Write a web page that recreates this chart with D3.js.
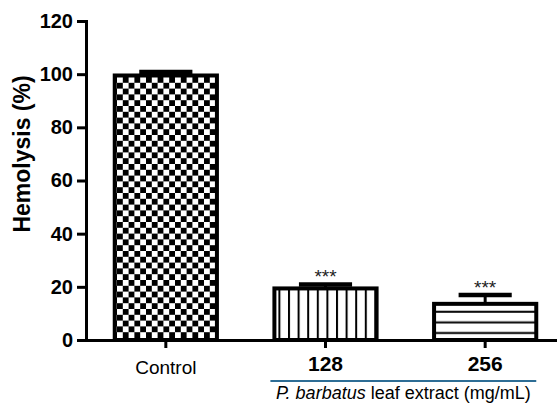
<!DOCTYPE html>
<html>
<head>
<meta charset="utf-8">
<script src="https://cdn.jsdelivr.net/npm/d3@7"></script>
<style>
  body { margin: 0; background: #fff; }
  svg { display: block; font-family: 'Liberation Sans', Arial, sans-serif; }
</style>
</head>
<body>
<div id="chart"></div>
<script>
const categories = ['Control', '128', '256']
const means = [99.5, 19.4, 13.6]
const errors = [1.3, 1.5, 3.3]
const stars = ['', '***', '***']
const fills = ['url(#checker)', 'url(#vlines)', 'url(#hlines)']
const yTicks = [0, 20, 40, 60, 80, 100, 120]

const width = 557
const height = 404

const svg = d3.select('#chart')
  .append('svg')
  .attr('width', width)
  .attr('height', height)

const defs = svg.append('defs')

// checkerboard for control
const cell = 5.8
const checker = defs.append('pattern')
  .attr('id', 'checker')
  .attr('patternUnits', 'userSpaceOnUse')
  .attr('x', 117).attr('y', 338)
  .attr('width', cell * 2).attr('height', cell * 2)
checker.append('rect').attr('width', cell * 2).attr('height', cell * 2).attr('fill', '#fff')
checker.append('rect').attr('width', cell).attr('height', cell).attr('fill', '#000')
checker.append('rect').attr('x', cell).attr('y', cell).attr('width', cell).attr('height', cell).attr('fill', '#000')

const vlines = defs.append('pattern')
  .attr('id', 'vlines')
  .attr('patternUnits', 'userSpaceOnUse')
  .attr('width', 9.6).attr('height', 10)
vlines.append('rect').attr('width', 9.6).attr('height', 10).attr('fill', '#fff')
vlines.append('rect').attr('x', 0).attr('width', 2).attr('height', 10).attr('fill', '#000')

const hlines = defs.append('pattern')
  .attr('id', 'hlines')
  .attr('patternUnits', 'userSpaceOnUse')
  .attr('width', 10).attr('height', 10.6)
  .attr('y', 340)
hlines.append('rect').attr('width', 10).attr('height', 10.6).attr('fill', '#fff')
hlines.append('rect').attr('y', 2.6).attr('width', 10).attr('height', 2).attr('fill', '#000')

const x = d3.scaleBand()
  .domain(categories)
  .range([86, 565])
  .paddingInner(0.36)
  .paddingOuter(0.18)

const y = d3.scaleLinear()
  .domain([0, 120])
  .range([340, 21])

// bars
const bars = svg.append('g')
  .selectAll('g')
  .data(categories)
  .enter()
  .append('g')

bars.append('rect')
  .attr('x', d => x(d))
  .attr('y', (d, i) => y(means[i]))
  .attr('width', x.bandwidth())
  .attr('height', (d, i) => y(0) - y(means[i]))
  .attr('fill', (d, i) => fills[i])
  .attr('stroke', '#000')
  .attr('stroke-width', 4)

// error bars
bars.append('line')
  .attr('x1', d => x(d) + x.bandwidth() / 2)
  .attr('x2', d => x(d) + x.bandwidth() / 2)
  .attr('y1', (d, i) => y(means[i]))
  .attr('y2', (d, i) => y(means[i] + errors[i]))
  .attr('stroke', '#000')
  .attr('stroke-width', 3)

bars.append('line')
  .attr('x1', d => x(d) + x.bandwidth() * 0.24)
  .attr('x2', d => x(d) + x.bandwidth() * 0.76)
  .attr('y1', (d, i) => y(means[i] + errors[i]))
  .attr('y2', (d, i) => y(means[i] + errors[i]))
  .attr('stroke', '#000')
  .attr('stroke-width', 4.5)

bars.append('text')
  .attr('x', d => x(d) + x.bandwidth() / 2)
  .attr('y', (d, i) => y(means[i] + errors[i]) - 1)
  .attr('text-anchor', 'middle')
  .attr('font-size', 19)
  .attr('fill', '#222')
  .text((d, i) => stars[i])

// y axis
const yAxis = svg.append('g')
  .attr('transform', 'translate(86,0)')
  .call(d3.axisLeft(y).tickValues(yTicks).tickSize(9).tickPadding(4))
yAxis.select('.domain').attr('stroke-width', 3)
yAxis.selectAll('.tick line').attr('stroke-width', 3)
yAxis.selectAll('.tick text')
  .attr('font-size', 20)
  .attr('font-weight', 'bold')
  .attr('fill', '#000')
  .attr('font-family', "'Liberation Sans', Arial, sans-serif")

// x axis
const xAxis = svg.append('g')
  .attr('transform', 'translate(0,340)')
  .call(d3.axisBottom(x).tickSize(8).tickPadding(8))
xAxis.select('.domain').attr('d', 'M77,0.5H557').attr('stroke-width', 3)
xAxis.selectAll('.tick line').attr('stroke-width', 3)
xAxis.selectAll('.tick text')
  .attr('fill', '#000')
  .attr('font-family', "'Liberation Sans', Arial, sans-serif")
  .attr('font-size', (d, i) => i === 0 ? 19 : 21)
  .attr('font-weight', (d, i) => i === 0 ? 'normal' : 'bold')
  .attr('dy', (d, i) => i === 0 ? '0.95em' : '0.71em')

// group bracket under the extract doses
svg.append('line')
  .attr('x1', x('128') - 4)
  .attr('x2', x('256') + x.bandwidth())
  .attr('y1', 381).attr('y2', 381)
  .attr('stroke', '#2d6d95')
  .attr('stroke-width', 2)

const sub = svg.append('text')
  .attr('x', (x('128') - 4 + x('256') + x.bandwidth()) / 2)
  .attr('y', 399)
  .attr('text-anchor', 'middle')
  .attr('font-size', 18)
  .attr('fill', '#000')
sub.append('tspan').attr('font-style', 'italic').text('P. barbatus')
sub.append('tspan').text(' leaf extract (mg/mL)')

// y label
svg.append('text')
  .attr('transform', 'translate(30,154) rotate(-90)')
  .attr('text-anchor', 'middle')
  .attr('font-size', 23)
  .attr('font-weight', 'bold')
  .attr('fill', '#000')
  .text('Hemolysis (%)')
</script>
</body>
</html>
